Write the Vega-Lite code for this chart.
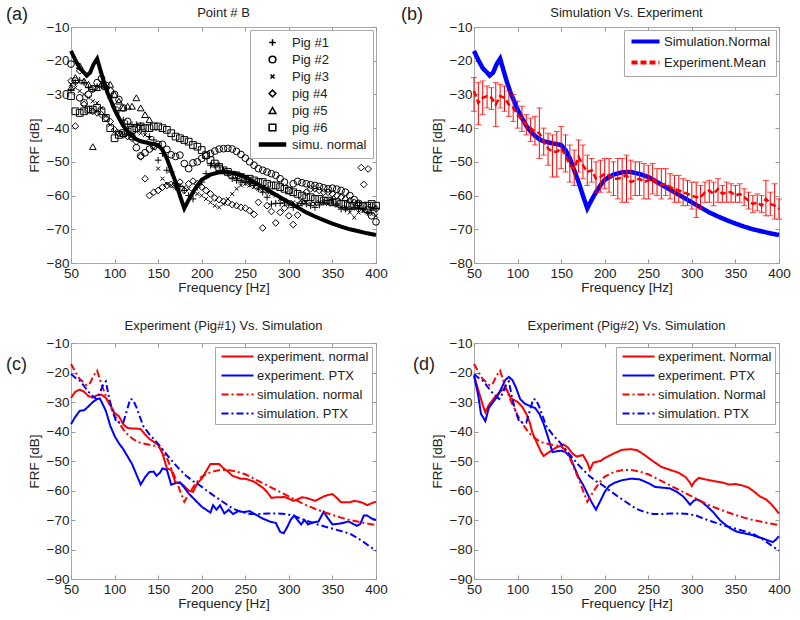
{
"$schema":"https://vega.github.io/schema/vega-lite/v6.json",
"padding":{"left":5,"top":5,"right":0,"bottom":0},
"config":{"font":"Liberation Sans","view":{"stroke":"#aaaaaa"},
"axis":{"domain":false,"grid":false,"tickColor":"#999999","tickSize":-4,"tickWidth":1,"labelFontSize":13.5,"labelColor":"#222222","titleFontSize":13.5,"titleFontWeight":"normal","titleColor":"#222222","labelFlush":false,"labelOverlap":false},
"axisY":{"labelPadding":6,"titlePadding":5},
"axisX":{"labelPadding":7,"titlePadding":1},
"title":{"fontSize":13,"fontWeight":"normal","color":"#222222","offset":6},
"legend":{"labelFontSize":13,"labelColor":"#222222","strokeColor":"#aaaaaa","fillColor":"white","title":null,"orient":"top-right"}},
"resolve":{"scale":{"color":"independent","strokeDash":"independent","shape":"independent"},"legend":{"color":"independent","strokeDash":"independent","shape":"independent"}},
"datasets":{
"simN":[{"f":50,"v":-17.1},{"f":55,"v":-19.8},{"f":60,"v":-22.2},{"f":65,"v":-23.5},{"f":68,"v":-24.4},{"f":72,"v":-23.5},{"f":76,"v":-21},{"f":80,"v":-19.4},{"f":84,"v":-23},{"f":88,"v":-26.5},{"f":92,"v":-29.5},{"f":96,"v":-32},{"f":100,"v":-34.5},{"f":105,"v":-37},{"f":110,"v":-39.3},{"f":115,"v":-41},{"f":120,"v":-42.3},{"f":125,"v":-43.3},{"f":130,"v":-43.9},{"f":140,"v":-44.5},{"f":150,"v":-45},{"f":155,"v":-46.5},{"f":160,"v":-49},{"f":165,"v":-52.5},{"f":170,"v":-56},{"f":175,"v":-60},{"f":180,"v":-63.8},{"f":185,"v":-61.3},{"f":190,"v":-59},{"f":195,"v":-57},{"f":200,"v":-55.3},{"f":210,"v":-53.8},{"f":220,"v":-53.1},{"f":230,"v":-53},{"f":240,"v":-53.6},{"f":250,"v":-54.5},{"f":260,"v":-56},{"f":270,"v":-57.5},{"f":280,"v":-59},{"f":290,"v":-60.5},{"f":300,"v":-62},{"f":310,"v":-63.5},{"f":320,"v":-65},{"f":330,"v":-66.2},{"f":340,"v":-67.3},{"f":350,"v":-68.3},{"f":360,"v":-69.2},{"f":370,"v":-70},{"f":380,"v":-70.6},{"f":390,"v":-71.2},{"f":400,"v":-71.7}],
"simP":[{"f":50,"v":-20.5},{"f":55,"v":-21.8},{"f":61,"v":-23},{"f":66,"v":-25},{"f":70,"v":-26.5},{"f":75,"v":-28},{"f":79,"v":-29},{"f":83,"v":-27},{"f":87,"v":-24},{"f":90,"v":-23},{"f":94,"v":-29},{"f":98,"v":-33.5},{"f":102,"v":-36.7},{"f":106,"v":-37},{"f":110,"v":-37},{"f":114,"v":-33},{"f":118,"v":-29},{"f":121,"v":-29.2},{"f":125,"v":-31.7},{"f":129,"v":-35},{"f":133,"v":-38.2},{"f":140,"v":-41},{"f":148,"v":-43.5},{"f":155,"v":-46},{"f":163,"v":-49},{"f":172,"v":-52},{"f":182,"v":-55},{"f":190,"v":-56.8},{"f":198,"v":-58.3},{"f":207,"v":-60.3},{"f":217,"v":-62.4},{"f":227,"v":-64.4},{"f":236,"v":-66.2},{"f":246,"v":-67.3},{"f":256,"v":-68},{"f":266,"v":-68},{"f":276,"v":-67.8},{"f":286,"v":-67.8},{"f":296,"v":-68},{"f":305,"v":-68.5},{"f":314,"v":-69.6},{"f":323,"v":-70.5},{"f":333,"v":-71.5},{"f":342,"v":-72.3},{"f":352,"v":-73.1},{"f":362,"v":-73.9},{"f":371,"v":-74.8},{"f":378,"v":-76},{"f":385,"v":-77.3},{"f":392,"v":-78.8},{"f":400,"v":-80.4}],
"e1n":[{"f":50,"v":-28.6},{"f":55,"v":-26.5},{"f":60,"v":-25.8},{"f":65,"v":-26.5},{"f":70,"v":-28},{"f":75,"v":-28.5},{"f":80,"v":-27.7},{"f":85,"v":-27.5},{"f":90,"v":-28.6},{"f":95,"v":-31},{"f":100,"v":-33.7},{"f":105,"v":-34.8},{"f":110,"v":-37.6},{"f":115,"v":-38.8},{"f":120,"v":-39},{"f":125,"v":-39},{"f":130,"v":-39.2},{"f":135,"v":-41},{"f":140,"v":-42.5},{"f":145,"v":-43.5},{"f":150,"v":-44.5},{"f":155,"v":-47.5},{"f":160,"v":-52.5},{"f":165,"v":-53},{"f":170,"v":-57.5},{"f":175,"v":-57.3},{"f":180,"v":-58.5},{"f":185,"v":-60},{"f":190,"v":-60.5},{"f":195,"v":-57.5},{"f":200,"v":-56},{"f":205,"v":-53.5},{"f":210,"v":-51},{"f":215,"v":-51},{"f":220,"v":-51},{"f":225,"v":-52.5},{"f":230,"v":-53.5},{"f":235,"v":-55},{"f":240,"v":-55.5},{"f":245,"v":-56},{"f":250,"v":-56},{"f":255,"v":-56.5},{"f":260,"v":-57},{"f":265,"v":-58},{"f":270,"v":-59},{"f":275,"v":-60.5},{"f":280,"v":-62.5},{"f":285,"v":-62.3},{"f":290,"v":-62.3},{"f":295,"v":-62.2},{"f":300,"v":-62.8},{"f":305,"v":-63.5},{"f":310,"v":-63},{"f":315,"v":-62.3},{"f":320,"v":-62.5},{"f":325,"v":-63},{"f":330,"v":-63.5},{"f":335,"v":-62.8},{"f":340,"v":-62},{"f":345,"v":-61.5},{"f":350,"v":-61.2},{"f":355,"v":-62.5},{"f":360,"v":-64},{"f":365,"v":-64},{"f":370,"v":-64},{"f":375,"v":-63.5},{"f":380,"v":-63.8},{"f":385,"v":-64.2},{"f":390,"v":-65},{"f":395,"v":-64.3},{"f":400,"v":-63.8}],
"e1p":[{"f":50,"v":-37.5},{"f":55,"v":-35},{"f":60,"v":-33},{"f":65,"v":-32.8},{"f":70,"v":-31.5},{"f":75,"v":-30},{"f":80,"v":-29},{"f":83,"v":-28.8},{"f":86,"v":-30.5},{"f":90,"v":-33},{"f":95,"v":-38},{"f":100,"v":-41.5},{"f":105,"v":-44},{"f":110,"v":-46},{"f":115,"v":-48.5},{"f":120,"v":-51},{"f":125,"v":-54.5},{"f":130,"v":-58},{"f":135,"v":-55.5},{"f":140,"v":-53.7},{"f":145,"v":-53.6},{"f":148,"v":-55},{"f":152,"v":-54},{"f":155,"v":-52.5},{"f":160,"v":-53},{"f":165,"v":-58},{"f":170,"v":-57.5},{"f":175,"v":-57.3},{"f":180,"v":-59},{"f":185,"v":-61},{"f":190,"v":-62.5},{"f":195,"v":-64},{"f":200,"v":-65.5},{"f":205,"v":-66.5},{"f":210,"v":-67.5},{"f":213,"v":-65},{"f":217,"v":-66.5},{"f":221,"v":-65},{"f":226,"v":-67.8},{"f":231,"v":-66.5},{"f":236,"v":-68},{"f":242,"v":-67},{"f":248,"v":-67.3},{"f":255,"v":-67},{"f":262,"v":-68.2},{"f":270,"v":-69.5},{"f":278,"v":-70.5},{"f":285,"v":-71},{"f":290,"v":-74},{"f":294,"v":-74.5},{"f":298,"v":-72.5},{"f":302,"v":-70},{"f":306,"v":-68.5},{"f":310,"v":-70},{"f":314,"v":-71.5},{"f":318,"v":-70},{"f":322,"v":-71.5},{"f":328,"v":-70.8},{"f":334,"v":-70.5},{"f":340,"v":-67.2},{"f":345,"v":-69.5},{"f":350,"v":-71.5},{"f":356,"v":-71.3},{"f":362,"v":-71},{"f":368,"v":-70.5},{"f":372,"v":-71},{"f":378,"v":-72},{"f":382,"v":-71.3},{"f":386,"v":-68.5},{"f":390,"v":-68.5},{"f":395,"v":-69.5},{"f":400,"v":-70}],
"e2n":[{"f":50,"v":-21},{"f":55,"v":-26},{"f":60,"v":-31},{"f":63,"v":-33.5},{"f":67,"v":-31},{"f":73,"v":-28.7},{"f":80,"v":-26.5},{"f":85,"v":-25.3},{"f":88,"v":-26},{"f":92,"v":-28.7},{"f":100,"v":-30},{"f":105,"v":-31.5},{"f":110,"v":-34},{"f":114,"v":-37},{"f":117,"v":-40.4},{"f":123,"v":-44.4},{"f":127,"v":-47},{"f":130,"v":-48.3},{"f":136,"v":-47},{"f":144,"v":-45.5},{"f":153,"v":-44.4},{"f":158,"v":-45.5},{"f":163,"v":-47.5},{"f":168,"v":-48.5},{"f":175,"v":-48},{"f":180,"v":-50.5},{"f":183,"v":-53},{"f":187,"v":-50.5},{"f":195,"v":-50},{"f":200,"v":-49},{"f":210,"v":-47.5},{"f":220,"v":-46.2},{"f":230,"v":-46},{"f":237,"v":-46.3},{"f":245,"v":-47.8},{"f":255,"v":-50},{"f":265,"v":-52},{"f":275,"v":-53},{"f":285,"v":-54},{"f":293,"v":-55.5},{"f":297,"v":-57},{"f":300,"v":-58.5},{"f":303,"v":-57},{"f":308,"v":-55.7},{"f":315,"v":-56.2},{"f":325,"v":-56.8},{"f":335,"v":-57.3},{"f":343,"v":-58},{"f":350,"v":-57.8},{"f":358,"v":-58.3},{"f":365,"v":-59},{"f":372,"v":-60.5},{"f":378,"v":-62},{"f":385,"v":-63},{"f":390,"v":-64.3},{"f":395,"v":-66},{"f":400,"v":-67.8}],
"e2p":[{"f":50,"v":-21},{"f":55,"v":-28},{"f":58,"v":-34},{"f":63,"v":-36.5},{"f":67,"v":-32},{"f":72,"v":-30},{"f":77,"v":-28},{"f":82,"v":-25},{"f":86,"v":-22.5},{"f":90,"v":-21.5},{"f":94,"v":-22.5},{"f":98,"v":-25},{"f":103,"v":-29},{"f":108,"v":-30.5},{"f":115,"v":-31.5},{"f":120,"v":-32},{"f":125,"v":-34},{"f":130,"v":-37.5},{"f":135,"v":-42},{"f":140,"v":-47},{"f":145,"v":-46.7},{"f":150,"v":-46.5},{"f":155,"v":-47},{"f":160,"v":-48.5},{"f":165,"v":-52},{"f":170,"v":-55.5},{"f":175,"v":-58},{"f":180,"v":-61},{"f":185,"v":-64},{"f":190,"v":-66.5},{"f":195,"v":-63.5},{"f":200,"v":-60.5},{"f":205,"v":-58.5},{"f":212,"v":-57.3},{"f":220,"v":-56.5},{"f":230,"v":-56},{"f":240,"v":-56.2},{"f":250,"v":-57.5},{"f":258,"v":-58.8},{"f":265,"v":-59},{"f":275,"v":-59.3},{"f":283,"v":-60.5},{"f":290,"v":-62},{"f":298,"v":-64.8},{"f":302,"v":-63.5},{"f":306,"v":-63},{"f":312,"v":-64},{"f":318,"v":-65.5},{"f":325,"v":-67.5},{"f":332,"v":-70},{"f":338,"v":-71.5},{"f":345,"v":-73},{"f":352,"v":-74},{"f":360,"v":-74.5},{"f":368,"v":-75},{"f":375,"v":-75.7},{"f":382,"v":-76.3},{"f":388,"v":-77},{"f":393,"v":-77.5},{"f":397,"v":-76.5},{"f":400,"v":-75.5}],
"mean":[{"f":50,"m":-29,"lo":-35,"hi":-25},{"f":55,"m":-32.5,"lo":-39,"hi":-26.5},{"f":60,"m":-31,"lo":-36,"hi":-26},{"f":65,"m":-30.5,"lo":-34,"hi":-27.5},{"f":70,"m":-31,"lo":-34.5,"hi":-28},{"f":75,"m":-33,"lo":-39.5,"hi":-26.5},{"f":80,"m":-30.5,"lo":-34,"hi":-27},{"f":85,"m":-31,"lo":-35,"hi":-27.5},{"f":90,"m":-33,"lo":-36.5,"hi":-29},{"f":95,"m":-34,"lo":-38,"hi":-30},{"f":100,"m":-36,"lo":-40,"hi":-32},{"f":105,"m":-37.5,"lo":-41,"hi":-33.5},{"f":110,"m":-39,"lo":-42,"hi":-36},{"f":115,"m":-40,"lo":-44,"hi":-37},{"f":120,"m":-41,"lo":-45,"hi":-36.5},{"f":125,"m":-41.5,"lo":-49,"hi":-34},{"f":130,"m":-44,"lo":-48,"hi":-40},{"f":135,"m":-46,"lo":-51,"hi":-41.5},{"f":140,"m":-47,"lo":-54.5,"hi":-42},{"f":145,"m":-47,"lo":-54.5,"hi":-41},{"f":150,"m":-46,"lo":-52,"hi":-39.5},{"f":155,"m":-48,"lo":-53,"hi":-42},{"f":160,"m":-51,"lo":-56,"hi":-45},{"f":165,"m":-52,"lo":-57,"hi":-46.5},{"f":170,"m":-48.5,"lo":-53,"hi":-43.5},{"f":175,"m":-51,"lo":-55,"hi":-45},{"f":180,"m":-53,"lo":-57,"hi":-48},{"f":185,"m":-52.5,"lo":-56,"hi":-49},{"f":190,"m":-55,"lo":-59,"hi":-50},{"f":195,"m":-54.5,"lo":-59,"hi":-49.5},{"f":200,"m":-53.5,"lo":-58,"hi":-49},{"f":205,"m":-54,"lo":-59,"hi":-49},{"f":210,"m":-55,"lo":-60,"hi":-50},{"f":215,"m":-55,"lo":-61,"hi":-49},{"f":220,"m":-54.5,"lo":-62,"hi":-49},{"f":225,"m":-54,"lo":-62,"hi":-48},{"f":230,"m":-56,"lo":-61,"hi":-49.5},{"f":235,"m":-55.5,"lo":-60,"hi":-50},{"f":240,"m":-55,"lo":-60,"hi":-50},{"f":245,"m":-56,"lo":-61,"hi":-50.5},{"f":250,"m":-55.5,"lo":-61,"hi":-51},{"f":255,"m":-55,"lo":-59.5,"hi":-50.5},{"f":260,"m":-56.5,"lo":-60,"hi":-52},{"f":265,"m":-57,"lo":-61,"hi":-52},{"f":270,"m":-56.5,"lo":-60,"hi":-52},{"f":275,"m":-57.5,"lo":-61,"hi":-53.5},{"f":280,"m":-58,"lo":-62,"hi":-54},{"f":285,"m":-58.5,"lo":-62,"hi":-54},{"f":290,"m":-59,"lo":-63,"hi":-55},{"f":295,"m":-59.5,"lo":-63,"hi":-55.5},{"f":300,"m":-60,"lo":-64,"hi":-56},{"f":305,"m":-60.5,"lo":-66.5,"hi":-56},{"f":310,"m":-60.5,"lo":-64,"hi":-57},{"f":315,"m":-59,"lo":-62,"hi":-56},{"f":320,"m":-58.5,"lo":-62,"hi":-55.5},{"f":325,"m":-59.5,"lo":-63,"hi":-56},{"f":330,"m":-58,"lo":-62,"hi":-55},{"f":335,"m":-59.5,"lo":-62,"hi":-57},{"f":340,"m":-59,"lo":-62,"hi":-56},{"f":345,"m":-59,"lo":-62,"hi":-56.5},{"f":350,"m":-60,"lo":-62,"hi":-57},{"f":355,"m":-59.5,"lo":-62,"hi":-56.5},{"f":360,"m":-60.5,"lo":-63,"hi":-58},{"f":365,"m":-61.5,"lo":-64,"hi":-59},{"f":370,"m":-62.5,"lo":-65,"hi":-60},{"f":375,"m":-62,"lo":-64.5,"hi":-59.5},{"f":380,"m":-63,"lo":-65,"hi":-60},{"f":385,"m":-61,"lo":-66,"hi":-55.5},{"f":390,"m":-62.5,"lo":-66,"hi":-59},{"f":395,"m":-63,"lo":-67,"hi":-56.5},{"f":400,"m":-64,"lo":-67,"hi":-61}],
"pigs":[
{"f":50,"v":-28.6,"p":"Pig #1"},{"f":55,"v":-26.5,"p":"Pig #1"},{"f":60,"v":-25.8,"p":"Pig #1"},{"f":65,"v":-26.5,"p":"Pig #1"},{"f":70,"v":-28,"p":"Pig #1"},{"f":75,"v":-28.5,"p":"Pig #1"},{"f":80,"v":-27.7,"p":"Pig #1"},{"f":85,"v":-27.5,"p":"Pig #1"},{"f":90,"v":-28.6,"p":"Pig #1"},{"f":95,"v":-31,"p":"Pig #1"},{"f":100,"v":-33.7,"p":"Pig #1"},{"f":105,"v":-34.8,"p":"Pig #1"},{"f":110,"v":-37.6,"p":"Pig #1"},{"f":115,"v":-38.8,"p":"Pig #1"},{"f":120,"v":-39,"p":"Pig #1"},{"f":125,"v":-39,"p":"Pig #1"},{"f":130,"v":-39.2,"p":"Pig #1"},{"f":135,"v":-41,"p":"Pig #1"},{"f":140,"v":-42.5,"p":"Pig #1"},{"f":145,"v":-43.5,"p":"Pig #1"},{"f":150,"v":-49.5,"p":"Pig #1"},{"f":155,"v":-47.5,"p":"Pig #1"},{"f":160,"v":-52.5,"p":"Pig #1"},{"f":165,"v":-53,"p":"Pig #1"},{"f":170,"v":-57.5,"p":"Pig #1"},{"f":175,"v":-57.3,"p":"Pig #1"},{"f":180,"v":-58.5,"p":"Pig #1"},{"f":185,"v":-60,"p":"Pig #1"},{"f":190,"v":-61,"p":"Pig #1"},{"f":195,"v":-57.5,"p":"Pig #1"},{"f":200,"v":-56,"p":"Pig #1"},{"f":205,"v":-53.5,"p":"Pig #1"},{"f":210,"v":-51,"p":"Pig #1"},{"f":215,"v":-51,"p":"Pig #1"},{"f":220,"v":-51,"p":"Pig #1"},{"f":225,"v":-52.5,"p":"Pig #1"},{"f":230,"v":-53.5,"p":"Pig #1"},{"f":235,"v":-55,"p":"Pig #1"},{"f":240,"v":-55.5,"p":"Pig #1"},{"f":245,"v":-56,"p":"Pig #1"},{"f":250,"v":-56,"p":"Pig #1"},{"f":255,"v":-56.5,"p":"Pig #1"},{"f":260,"v":-57,"p":"Pig #1"},{"f":265,"v":-58,"p":"Pig #1"},{"f":270,"v":-59,"p":"Pig #1"},{"f":275,"v":-60.5,"p":"Pig #1"},{"f":280,"v":-62.5,"p":"Pig #1"},{"f":285,"v":-62.3,"p":"Pig #1"},{"f":290,"v":-62.3,"p":"Pig #1"},{"f":295,"v":-62.2,"p":"Pig #1"},{"f":300,"v":-62.8,"p":"Pig #1"},{"f":305,"v":-63.5,"p":"Pig #1"},{"f":310,"v":-63,"p":"Pig #1"},{"f":315,"v":-62.3,"p":"Pig #1"},{"f":320,"v":-62.5,"p":"Pig #1"},{"f":325,"v":-63,"p":"Pig #1"},{"f":330,"v":-63.5,"p":"Pig #1"},{"f":335,"v":-62.8,"p":"Pig #1"},{"f":340,"v":-62,"p":"Pig #1"},{"f":345,"v":-61.5,"p":"Pig #1"},{"f":350,"v":-61.2,"p":"Pig #1"},{"f":355,"v":-62.5,"p":"Pig #1"},{"f":360,"v":-64,"p":"Pig #1"},{"f":365,"v":-64,"p":"Pig #1"},{"f":370,"v":-64,"p":"Pig #1"},{"f":375,"v":-63.5,"p":"Pig #1"},{"f":380,"v":-63.8,"p":"Pig #1"},{"f":385,"v":-64.2,"p":"Pig #1"},{"f":390,"v":-65,"p":"Pig #1"},{"f":395,"v":-64.3,"p":"Pig #1"},{"f":400,"v":-63.8,"p":"Pig #1"},
{"f":50,"v":-21,"p":"Pig #2"},{"f":55,"v":-26,"p":"Pig #2"},{"f":60,"v":-31,"p":"Pig #2"},{"f":65,"v":-32.5,"p":"Pig #2"},{"f":70,"v":-30,"p":"Pig #2"},{"f":75,"v":-28.3,"p":"Pig #2"},{"f":80,"v":-26.5,"p":"Pig #2"},{"f":85,"v":-25.3,"p":"Pig #2"},{"f":90,"v":-27.3,"p":"Pig #2"},{"f":95,"v":-29,"p":"Pig #2"},{"f":100,"v":-30,"p":"Pig #2"},{"f":105,"v":-31.5,"p":"Pig #2"},{"f":110,"v":-34,"p":"Pig #2"},{"f":115,"v":-38,"p":"Pig #2"},{"f":120,"v":-42.5,"p":"Pig #2"},{"f":125,"v":-45.8,"p":"Pig #2"},{"f":130,"v":-48.2,"p":"Pig #2"},{"f":135,"v":-47.3,"p":"Pig #2"},{"f":140,"v":-46.2,"p":"Pig #2"},{"f":145,"v":-45.4,"p":"Pig #2"},{"f":150,"v":-44.8,"p":"Pig #2"},{"f":155,"v":-44.8,"p":"Pig #2"},{"f":160,"v":-46.3,"p":"Pig #2"},{"f":165,"v":-47.9,"p":"Pig #2"},{"f":170,"v":-48.4,"p":"Pig #2"},{"f":175,"v":-48,"p":"Pig #2"},{"f":180,"v":-50.5,"p":"Pig #2"},{"f":185,"v":-52,"p":"Pig #2"},{"f":190,"v":-50.3,"p":"Pig #2"},{"f":195,"v":-50,"p":"Pig #2"},{"f":200,"v":-49,"p":"Pig #2"},{"f":205,"v":-48.2,"p":"Pig #2"},{"f":210,"v":-47.5,"p":"Pig #2"},{"f":215,"v":-46.8,"p":"Pig #2"},{"f":220,"v":-46.2,"p":"Pig #2"},{"f":225,"v":-46.1,"p":"Pig #2"},{"f":230,"v":-46,"p":"Pig #2"},{"f":235,"v":-46.2,"p":"Pig #2"},{"f":240,"v":-46.9,"p":"Pig #2"},{"f":245,"v":-47.8,"p":"Pig #2"},{"f":250,"v":-48.9,"p":"Pig #2"},{"f":255,"v":-50,"p":"Pig #2"},{"f":260,"v":-51,"p":"Pig #2"},{"f":265,"v":-52,"p":"Pig #2"},{"f":270,"v":-52.5,"p":"Pig #2"},{"f":275,"v":-53,"p":"Pig #2"},{"f":280,"v":-53.5,"p":"Pig #2"},{"f":285,"v":-54,"p":"Pig #2"},{"f":290,"v":-55,"p":"Pig #2"},{"f":295,"v":-56,"p":"Pig #2"},{"f":300,"v":-58.5,"p":"Pig #2"},{"f":305,"v":-56.5,"p":"Pig #2"},{"f":310,"v":-55.8,"p":"Pig #2"},{"f":315,"v":-56.2,"p":"Pig #2"},{"f":320,"v":-56.5,"p":"Pig #2"},{"f":325,"v":-56.8,"p":"Pig #2"},{"f":330,"v":-57,"p":"Pig #2"},{"f":335,"v":-57.3,"p":"Pig #2"},{"f":340,"v":-57.7,"p":"Pig #2"},{"f":345,"v":-58,"p":"Pig #2"},{"f":350,"v":-57.8,"p":"Pig #2"},{"f":355,"v":-58.1,"p":"Pig #2"},{"f":360,"v":-58.5,"p":"Pig #2"},{"f":365,"v":-59,"p":"Pig #2"},{"f":370,"v":-60,"p":"Pig #2"},{"f":375,"v":-61.2,"p":"Pig #2"},{"f":380,"v":-62.3,"p":"Pig #2"},{"f":385,"v":-63,"p":"Pig #2"},{"f":390,"v":-64.3,"p":"Pig #2"},{"f":395,"v":-66,"p":"Pig #2"},{"f":400,"v":-67.8,"p":"Pig #2"},
{"f":50,"v":-27,"p":"Pig #3"},{"f":55,"v":-28,"p":"Pig #3"},{"f":60,"v":-29,"p":"Pig #3"},{"f":65,"v":-30,"p":"Pig #3"},{"f":70,"v":-31,"p":"Pig #3"},{"f":75,"v":-32,"p":"Pig #3"},{"f":80,"v":-32.5,"p":"Pig #3"},{"f":85,"v":-34,"p":"Pig #3"},{"f":90,"v":-36.5,"p":"Pig #3"},{"f":95,"v":-39,"p":"Pig #3"},{"f":100,"v":-41,"p":"Pig #3"},{"f":105,"v":-41.5,"p":"Pig #3"},{"f":110,"v":-42,"p":"Pig #3"},{"f":115,"v":-42,"p":"Pig #3"},{"f":120,"v":-41.5,"p":"Pig #3"},{"f":125,"v":-41,"p":"Pig #3"},{"f":130,"v":-41.5,"p":"Pig #3"},{"f":135,"v":-42,"p":"Pig #3"},{"f":140,"v":-43,"p":"Pig #3"},{"f":145,"v":-46,"p":"Pig #3"},{"f":150,"v":-52,"p":"Pig #3"},{"f":155,"v":-55,"p":"Pig #3"},{"f":160,"v":-56.5,"p":"Pig #3"},{"f":165,"v":-57,"p":"Pig #3"},{"f":170,"v":-57.5,"p":"Pig #3"},{"f":175,"v":-57,"p":"Pig #3"},{"f":180,"v":-57.5,"p":"Pig #3"},{"f":185,"v":-58,"p":"Pig #3"},{"f":190,"v":-59,"p":"Pig #3"},{"f":195,"v":-59.5,"p":"Pig #3"},{"f":200,"v":-60,"p":"Pig #3"},{"f":205,"v":-61,"p":"Pig #3"},{"f":210,"v":-62,"p":"Pig #3"},{"f":215,"v":-63,"p":"Pig #3"},{"f":220,"v":-63.5,"p":"Pig #3"},{"f":225,"v":-62.5,"p":"Pig #3"},{"f":230,"v":-61,"p":"Pig #3"},{"f":235,"v":-59.5,"p":"Pig #3"},{"f":240,"v":-58,"p":"Pig #3"},{"f":245,"v":-57,"p":"Pig #3"},{"f":250,"v":-56.5,"p":"Pig #3"},{"f":255,"v":-57,"p":"Pig #3"},{"f":260,"v":-57.5,"p":"Pig #3"},{"f":265,"v":-58,"p":"Pig #3"},{"f":270,"v":-58.5,"p":"Pig #3"},{"f":275,"v":-59,"p":"Pig #3"},{"f":280,"v":-59.5,"p":"Pig #3"},{"f":285,"v":-60,"p":"Pig #3"},{"f":290,"v":-61,"p":"Pig #3"},{"f":295,"v":-61.5,"p":"Pig #3"},{"f":300,"v":-62,"p":"Pig #3"},{"f":305,"v":-62,"p":"Pig #3"},{"f":310,"v":-62.5,"p":"Pig #3"},{"f":315,"v":-62,"p":"Pig #3"},{"f":320,"v":-62,"p":"Pig #3"},{"f":325,"v":-62.5,"p":"Pig #3"},{"f":330,"v":-62.5,"p":"Pig #3"},{"f":335,"v":-62,"p":"Pig #3"},{"f":340,"v":-62,"p":"Pig #3"},{"f":345,"v":-62.5,"p":"Pig #3"},{"f":350,"v":-62.5,"p":"Pig #3"},{"f":355,"v":-63,"p":"Pig #3"},{"f":360,"v":-63.5,"p":"Pig #3"},{"f":365,"v":-64,"p":"Pig #3"},{"f":370,"v":-65,"p":"Pig #3"},{"f":375,"v":-66.5,"p":"Pig #3"},{"f":380,"v":-65,"p":"Pig #3"},{"f":385,"v":-64.5,"p":"Pig #3"},{"f":390,"v":-65,"p":"Pig #3"},{"f":395,"v":-65.5,"p":"Pig #3"},{"f":400,"v":-66,"p":"Pig #3"},
{"f":50,"v":-26,"p":"pig #4"},{"f":55,"v":-39.4,"p":"pig #4"},{"f":60,"v":-23,"p":"pig #4"},{"f":65,"v":-33,"p":"pig #4"},{"f":70,"v":-34.5,"p":"pig #4"},{"f":75,"v":-35,"p":"pig #4"},{"f":80,"v":-35.5,"p":"pig #4"},{"f":85,"v":-36,"p":"pig #4"},{"f":90,"v":-37,"p":"pig #4"},{"f":95,"v":-38,"p":"pig #4"},{"f":100,"v":-40.5,"p":"pig #4"},{"f":105,"v":-41.5,"p":"pig #4"},{"f":110,"v":-42,"p":"pig #4"},{"f":115,"v":-42.5,"p":"pig #4"},{"f":120,"v":-43,"p":"pig #4"},{"f":125,"v":-44,"p":"pig #4"},{"f":130,"v":-48.5,"p":"pig #4"},{"f":135,"v":-55,"p":"pig #4"},{"f":140,"v":-60,"p":"pig #4"},{"f":145,"v":-59,"p":"pig #4"},{"f":150,"v":-58.5,"p":"pig #4"},{"f":155,"v":-57.5,"p":"pig #4"},{"f":160,"v":-57,"p":"pig #4"},{"f":165,"v":-56.7,"p":"pig #4"},{"f":170,"v":-56.5,"p":"pig #4"},{"f":175,"v":-56,"p":"pig #4"},{"f":180,"v":-58.5,"p":"pig #4"},{"f":185,"v":-56.5,"p":"pig #4"},{"f":190,"v":-55.7,"p":"pig #4"},{"f":195,"v":-56.5,"p":"pig #4"},{"f":200,"v":-57.5,"p":"pig #4"},{"f":205,"v":-58.5,"p":"pig #4"},{"f":210,"v":-59.5,"p":"pig #4"},{"f":215,"v":-60.7,"p":"pig #4"},{"f":220,"v":-61.2,"p":"pig #4"},{"f":225,"v":-61.7,"p":"pig #4"},{"f":230,"v":-62,"p":"pig #4"},{"f":235,"v":-62.7,"p":"pig #4"},{"f":240,"v":-63,"p":"pig #4"},{"f":245,"v":-63.5,"p":"pig #4"},{"f":250,"v":-63.7,"p":"pig #4"},{"f":255,"v":-64.5,"p":"pig #4"},{"f":260,"v":-65.6,"p":"pig #4"},{"f":265,"v":-62,"p":"pig #4"},{"f":270,"v":-69.6,"p":"pig #4"},{"f":275,"v":-63,"p":"pig #4"},{"f":280,"v":-64.7,"p":"pig #4"},{"f":285,"v":-68.1,"p":"pig #4"},{"f":290,"v":-65,"p":"pig #4"},{"f":295,"v":-63.7,"p":"pig #4"},{"f":300,"v":-66,"p":"pig #4"},{"f":305,"v":-68.6,"p":"pig #4"},{"f":310,"v":-65.8,"p":"pig #4"},{"f":315,"v":-62,"p":"pig #4"},{"f":320,"v":-59,"p":"pig #4"},{"f":325,"v":-58,"p":"pig #4"},{"f":330,"v":-58,"p":"pig #4"},{"f":335,"v":-58.5,"p":"pig #4"},{"f":340,"v":-59,"p":"pig #4"},{"f":345,"v":-59,"p":"pig #4"},{"f":350,"v":-59.5,"p":"pig #4"},{"f":355,"v":-60,"p":"pig #4"},{"f":360,"v":-60.5,"p":"pig #4"},{"f":365,"v":-61,"p":"pig #4"},{"f":370,"v":-61.5,"p":"pig #4"},{"f":375,"v":-62,"p":"pig #4"},{"f":380,"v":-62.5,"p":"pig #4"},{"f":383,"v":-51.7,"p":"pig #4"},{"f":386,"v":-56.7,"p":"pig #4"},{"f":391,"v":-52.1,"p":"pig #4"},{"f":395,"v":-63,"p":"pig #4"},{"f":400,"v":-64,"p":"pig #4"},
{"f":50,"v":-28,"p":"pig #5"},{"f":55,"v":-25,"p":"pig #5"},{"f":60,"v":-21.5,"p":"pig #5"},{"f":65,"v":-26,"p":"pig #5"},{"f":70,"v":-27,"p":"pig #5"},{"f":75,"v":-45.5,"p":"pig #5"},{"f":80,"v":-28,"p":"pig #5"},{"f":85,"v":-27,"p":"pig #5"},{"f":90,"v":-27.5,"p":"pig #5"},{"f":95,"v":-27,"p":"pig #5"},{"f":100,"v":-30,"p":"pig #5"},{"f":105,"v":-32,"p":"pig #5"},{"f":110,"v":-34,"p":"pig #5"},{"f":115,"v":-33.5,"p":"pig #5"},{"f":120,"v":-33.5,"p":"pig #5"},{"f":125,"v":-31,"p":"pig #5"},{"f":130,"v":-34,"p":"pig #5"},{"f":135,"v":-36,"p":"pig #5"},{"f":140,"v":-37.5,"p":"pig #5"},
{"f":50,"v":-30.5,"p":"pig #6"},{"f":55,"v":-35,"p":"pig #6"},{"f":60,"v":-35.5,"p":"pig #6"},{"f":65,"v":-35,"p":"pig #6"},{"f":70,"v":-34.5,"p":"pig #6"},{"f":75,"v":-34.5,"p":"pig #6"},{"f":80,"v":-34,"p":"pig #6"},{"f":85,"v":-35,"p":"pig #6"},{"f":90,"v":-37,"p":"pig #6"},{"f":95,"v":-40,"p":"pig #6"},{"f":100,"v":-43,"p":"pig #6"},{"f":105,"v":-42,"p":"pig #6"},{"f":110,"v":-41.5,"p":"pig #6"},{"f":115,"v":-41,"p":"pig #6"},{"f":120,"v":-40.5,"p":"pig #6"},{"f":125,"v":-40,"p":"pig #6"},{"f":130,"v":-39.5,"p":"pig #6"},{"f":135,"v":-40,"p":"pig #6"},{"f":140,"v":-40,"p":"pig #6"},{"f":145,"v":-39.5,"p":"pig #6"},{"f":150,"v":-39.5,"p":"pig #6"},{"f":155,"v":-40,"p":"pig #6"},{"f":160,"v":-40.5,"p":"pig #6"},{"f":165,"v":-41.5,"p":"pig #6"},{"f":170,"v":-42.5,"p":"pig #6"},{"f":175,"v":-43,"p":"pig #6"},{"f":180,"v":-43.5,"p":"pig #6"},{"f":185,"v":-44,"p":"pig #6"},{"f":190,"v":-45,"p":"pig #6"},{"f":195,"v":-45.5,"p":"pig #6"},{"f":200,"v":-46.5,"p":"pig #6"},{"f":205,"v":-48,"p":"pig #6"},{"f":210,"v":-49.5,"p":"pig #6"},{"f":215,"v":-50.5,"p":"pig #6"},{"f":220,"v":-51.5,"p":"pig #6"},{"f":225,"v":-52.5,"p":"pig #6"},{"f":230,"v":-53,"p":"pig #6"},{"f":235,"v":-53.8,"p":"pig #6"},{"f":240,"v":-54,"p":"pig #6"},{"f":245,"v":-54.5,"p":"pig #6"},{"f":250,"v":-55,"p":"pig #6"},{"f":255,"v":-55,"p":"pig #6"},{"f":260,"v":-55.5,"p":"pig #6"},{"f":265,"v":-56,"p":"pig #6"},{"f":270,"v":-56,"p":"pig #6"},{"f":275,"v":-56.5,"p":"pig #6"},{"f":280,"v":-57,"p":"pig #6"},{"f":285,"v":-57,"p":"pig #6"},{"f":290,"v":-57.5,"p":"pig #6"},{"f":295,"v":-58,"p":"pig #6"},{"f":300,"v":-58.5,"p":"pig #6"},{"f":305,"v":-59,"p":"pig #6"},{"f":310,"v":-59.5,"p":"pig #6"},{"f":315,"v":-60,"p":"pig #6"},{"f":320,"v":-60.5,"p":"pig #6"},{"f":325,"v":-60.5,"p":"pig #6"},{"f":330,"v":-61,"p":"pig #6"},{"f":335,"v":-61,"p":"pig #6"},{"f":340,"v":-61.5,"p":"pig #6"},{"f":345,"v":-61.5,"p":"pig #6"},{"f":350,"v":-62,"p":"pig #6"},{"f":355,"v":-62,"p":"pig #6"},{"f":360,"v":-62.5,"p":"pig #6"},{"f":365,"v":-62.5,"p":"pig #6"},{"f":370,"v":-63,"p":"pig #6"},{"f":375,"v":-63,"p":"pig #6"},{"f":380,"v":-63,"p":"pig #6"},{"f":385,"v":-63,"p":"pig #6"},{"f":390,"v":-63,"p":"pig #6"},{"f":395,"v":-62.5,"p":"pig #6"},{"f":400,"v":-63,"p":"pig #6"}
]},
"columns":2,
"spacing":{"row":80,"column":98},
"bounds":"flush",
"concat":[
{"width":305,"height":236,"title":{"text":"Point # B","offset":-14},
"resolve":{"axis":{"x":"independent","y":"independent"}},
"layer":[
{"data":{"name":"pigs"},"mark":{"type":"point","filled":false,"strokeWidth":1,"size":45,"color":"black","opacity":1},
"encoding":{
"x":{"field":"f","type":"quantitative","scale":{"domain":[50,400],"nice":false,"zero":false},"axis":{"title":"Frequency [Hz]","values":[50,100,150,200,250,300,350,400]}},
"y":{"field":"v","type":"quantitative","scale":{"domain":[-80,-10],"nice":false,"zero":false},"axis":{"title":"FRF [dB]","values":[-80,-70,-60,-50,-40,-30,-20,-10]}},
"shape":{"field":"p","type":"nominal","scale":{"domain":["Pig #1","Pig #2","Pig #3","pig #4","pig #5","pig #6","simu. normal"],"range":["M-1,0L1,0M0,-1L0,1","circle","M-0.6,-0.6L0.6,0.6M-0.6,0.6L0.6,-0.6","diamond","triangle-up","square","M-4.1,-0.45L4.1,-0.45M-4.1,-0.15L4.1,-0.15M-4.1,0.15L4.1,0.15M-4.1,0.45L4.1,0.45"]},
"legend":{"offset":3,"padding":6,"symbolOffset":10,"labelOffset":13,"rowPadding":3,"symbolSize":45,"symbolStrokeColor":"black"}}}},
{"data":{"name":"simN"},"mark":{"type":"line","color":"black","strokeWidth":4},
"encoding":{"x":{"field":"f","type":"quantitative","axis":{"orient":"top","labels":false,"title":null,"values":[50,100,150,200,250,300,350,400]}},
"y":{"field":"v","type":"quantitative","axis":{"orient":"right","labels":false,"title":null,"values":[-80,-70,-60,-50,-40,-30,-20,-10]}}}},
{"data":{"values":[{"t":"(a)"}]},"mark":{"type":"text","align":"left","baseline":"alphabetic","dx":-65,"dy":-7,"fontSize":18,"color":"#222222"},
"encoding":{"x":{"datum":50,"type":"quantitative","axis":null},"y":{"datum":-10,"type":"quantitative","axis":null},"text":{"field":"t"}}}
]},
{"width":305,"height":236,"title":{"text":"Simulation Vs. Experiment","offset":-14},
"resolve":{"axis":{"x":"independent","y":"independent"}},
"layer":[
{"data":{"name":"simN"},"mark":{"type":"line","strokeWidth":4.5},
"encoding":{
"x":{"field":"f","type":"quantitative","scale":{"domain":[50,400],"nice":false,"zero":false},"axis":{"title":"Frequency [Hz]","values":[50,100,150,200,250,300,350,400]}},
"y":{"field":"v","type":"quantitative","scale":{"domain":[-80,-10],"nice":false,"zero":false},"axis":{"title":"FRF [dB]","values":[-80,-70,-60,-50,-40,-30,-20,-10]}},
"color":{"datum":"Simulation.Normal","type":"nominal","scale":{"domain":["Simulation.Normal","Experiment.Mean"],"range":["#0000ff","#ff0000"]},
"legend":{"offset":3,"padding":5,"symbolOffset":10,"labelOffset":12,"rowPadding":4,"symbolSize":64,"symbolType":"M-3.5,0L3.5,0","symbolStrokeWidth":4}},
"strokeDash":{"datum":"Simulation.Normal","type":"nominal","scale":{"domain":["Simulation.Normal","Experiment.Mean"],"range":[[1,0],[6,3]]}}}},
{"data":{"name":"mean"},"mark":{"type":"errorbar","color":"#ff0000","ticks":true,"thickness":1,"size":6},
"encoding":{"x":{"field":"f","type":"quantitative","axis":{"orient":"top","labels":false,"title":null,"values":[50,100,150,200,250,300,350,400]}},
"y":{"field":"lo","type":"quantitative","axis":{"orient":"right","labels":false,"title":null,"values":[-80,-70,-60,-50,-40,-30,-20,-10]}},"y2":{"field":"hi"}}},
{"data":{"name":"mean"},"mark":{"type":"line","strokeWidth":2.5},
"encoding":{"x":{"field":"f","type":"quantitative","axis":null},"y":{"field":"m","type":"quantitative","axis":null},
"color":{"datum":"Experiment.Mean","type":"nominal"},"strokeDash":{"datum":"Experiment.Mean","type":"nominal"}}},
{"data":{"values":[{"t":"(b)"}]},"mark":{"type":"text","align":"left","baseline":"alphabetic","dx":-73,"dy":-7,"fontSize":18,"color":"#222222"},
"encoding":{"x":{"datum":50,"type":"quantitative","axis":null},"y":{"datum":-10,"type":"quantitative","axis":null},"text":{"field":"t"}}}
]},
{"width":305,"height":236,"title":{"text":"Experiment (Pig#1) Vs. Simulation","offset":3},
"resolve":{"axis":{"x":"independent","y":"independent"}},
"layer":[
{"data":{"name":"e1n"},"mark":{"type":"line","strokeWidth":2},
"encoding":{
"x":{"field":"f","type":"quantitative","scale":{"domain":[50,400],"nice":false,"zero":false},"axis":{"title":"Frequency [Hz]","values":[50,100,150,200,250,300,350,400]}},
"y":{"field":"v","type":"quantitative","scale":{"domain":[-90,-10],"nice":false,"zero":false},"axis":{"title":"FRF [dB]","values":[-90,-80,-70,-60,-50,-40,-30,-20,-10]}},
"color":{"datum":"experiment. normal","type":"nominal","scale":{"domain":["experiment. normal","experiment. PTX","simulation. normal","simulation. PTX"],"range":["#ff0000","#0000ff","#ff0000","#0000ff"]},
"legend":{"offset":4,"padding":3,"symbolOffset":13,"labelOffset":13,"rowPadding":5,"symbolSize":64,"symbolType":"M-4,0L4,0","symbolStrokeWidth":2}},
"strokeDash":{"datum":"experiment. normal","type":"nominal","scale":{"domain":["experiment. normal","experiment. PTX","simulation. normal","simulation. PTX"],"range":[[1,0],[1,0],[7,3,2,3],[7,3,2,3]]}}}},
{"data":{"name":"e1p"},"mark":{"type":"line","strokeWidth":2},
"encoding":{"x":{"field":"f","type":"quantitative","axis":{"orient":"top","labels":false,"title":null,"values":[50,100,150,200,250,300,350,400]}},
"y":{"field":"v","type":"quantitative","axis":{"orient":"right","labels":false,"title":null,"values":[-90,-80,-70,-60,-50,-40,-30,-20,-10]}},
"color":{"datum":"experiment. PTX","type":"nominal"},"strokeDash":{"datum":"experiment. PTX","type":"nominal"}}},
{"data":{"name":"simN"},"mark":{"type":"line","strokeWidth":2},
"encoding":{"x":{"field":"f","type":"quantitative","axis":null},"y":{"field":"v","type":"quantitative","axis":null},
"color":{"datum":"simulation. normal","type":"nominal"},"strokeDash":{"datum":"simulation. normal","type":"nominal"}}},
{"data":{"name":"simP"},"mark":{"type":"line","strokeWidth":2},
"encoding":{"x":{"field":"f","type":"quantitative","axis":null},"y":{"field":"v","type":"quantitative","axis":null},
"color":{"datum":"simulation. PTX","type":"nominal"},"strokeDash":{"datum":"simulation. PTX","type":"nominal"}}},
{"data":{"values":[{"t":"(c)"}]},"mark":{"type":"text","align":"left","baseline":"alphabetic","dx":-65,"dy":27,"fontSize":18,"color":"#222222"},
"encoding":{"x":{"datum":50,"type":"quantitative","axis":null},"y":{"datum":-10,"type":"quantitative","axis":null},"text":{"field":"t"}}}
]},
{"width":305,"height":236,"title":{"text":"Experiment (Pig#2) Vs. Simulation","offset":3},
"resolve":{"axis":{"x":"independent","y":"independent"}},
"layer":[
{"data":{"name":"e2n"},"mark":{"type":"line","strokeWidth":2},
"encoding":{
"x":{"field":"f","type":"quantitative","scale":{"domain":[50,400],"nice":false,"zero":false},"axis":{"title":"Frequency [Hz]","values":[50,100,150,200,250,300,350,400]}},
"y":{"field":"v","type":"quantitative","scale":{"domain":[-90,-10],"nice":false,"zero":false},"axis":{"title":"FRF [dB]","values":[-90,-80,-70,-60,-50,-40,-30,-20,-10]}},
"color":{"datum":"experiment. Normal","type":"nominal","scale":{"domain":["experiment. Normal","experiment. PTX","simulation. Normal","simulation. PTX"],"range":["#ff0000","#0000ff","#ff0000","#0000ff"]},
"legend":{"offset":4,"padding":3,"symbolOffset":13,"labelOffset":13,"rowPadding":5,"symbolSize":64,"symbolType":"M-4,0L4,0","symbolStrokeWidth":2}},
"strokeDash":{"datum":"experiment. Normal","type":"nominal","scale":{"domain":["experiment. Normal","experiment. PTX","simulation. Normal","simulation. PTX"],"range":[[1,0],[1,0],[7,3,2,3],[7,3,2,3]]}}}},
{"data":{"name":"e2p"},"mark":{"type":"line","strokeWidth":2},
"encoding":{"x":{"field":"f","type":"quantitative","axis":{"orient":"top","labels":false,"title":null,"values":[50,100,150,200,250,300,350,400]}},
"y":{"field":"v","type":"quantitative","axis":{"orient":"right","labels":false,"title":null,"values":[-90,-80,-70,-60,-50,-40,-30,-20,-10]}},
"color":{"datum":"experiment. PTX","type":"nominal"},"strokeDash":{"datum":"experiment. PTX","type":"nominal"}}},
{"data":{"name":"simN"},"mark":{"type":"line","strokeWidth":2},
"encoding":{"x":{"field":"f","type":"quantitative","axis":null},"y":{"field":"v","type":"quantitative","axis":null},
"color":{"datum":"simulation. Normal","type":"nominal"},"strokeDash":{"datum":"simulation. Normal","type":"nominal"}}},
{"data":{"name":"simP"},"mark":{"type":"line","strokeWidth":2},
"encoding":{"x":{"field":"f","type":"quantitative","axis":null},"y":{"field":"v","type":"quantitative","axis":null},
"color":{"datum":"simulation. PTX","type":"nominal"},"strokeDash":{"datum":"simulation. PTX","type":"nominal"}}},
{"data":{"values":[{"t":"(d)"}]},"mark":{"type":"text","align":"left","baseline":"alphabetic","dx":-61,"dy":27,"fontSize":18,"color":"#222222"},
"encoding":{"x":{"datum":50,"type":"quantitative","axis":null},"y":{"datum":-10,"type":"quantitative","axis":null},"text":{"field":"t"}}}
]}
]}
